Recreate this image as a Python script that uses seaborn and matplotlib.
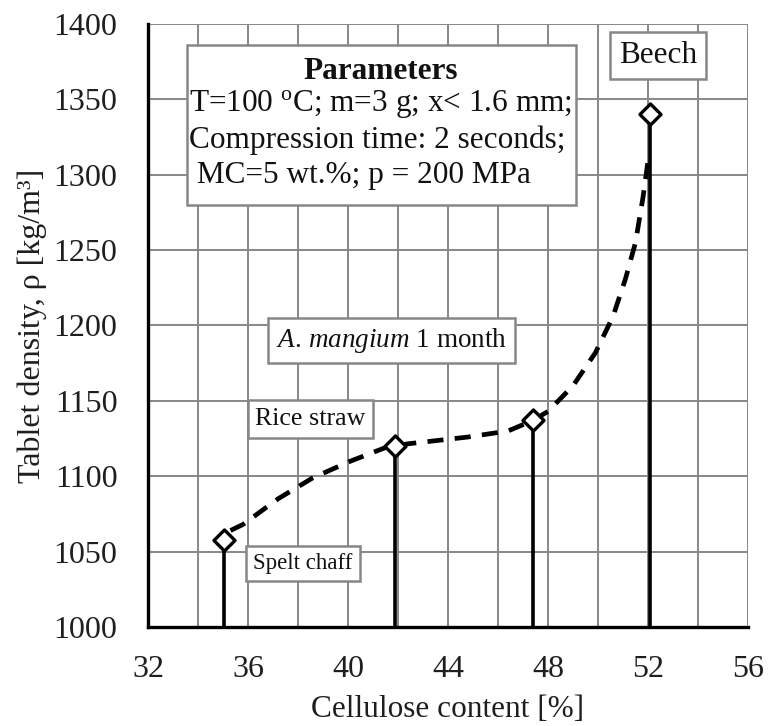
import matplotlib
matplotlib.use("Agg")
import matplotlib.pyplot as plt
import seaborn as sns
import pandas as pd
from matplotlib.patches import Rectangle

# ---- data ----
materials = ["Spelt chaff", "Rice straw", "A. mangium 1 month", "Beech"]
cellulose = [35.05, 41.9, 47.4, 52.1]
density = [1058, 1120, 1137, 1340]

curve_x = [35.3, 35.8, 37.2, 38.6, 40.1, 41.5, 42.4, 43.2, 44.8, 46.4, 47.4,
           48.0, 49.0, 49.9, 50.6, 51.1, 51.5, 51.8, 52.05]
curve_y = [1064, 1068, 1085, 1099, 1110, 1119, 1121.5, 1123, 1126, 1130, 1137,
           1143, 1160, 1182, 1206, 1231, 1255, 1285, 1315]

x_ticks = [32, 36, 40, 44, 48, 52, 56]
y_ticks = [1000, 1050, 1100, 1150, 1200, 1250, 1300, 1350, 1400]

sns.set_theme(style="white")
plt.rcParams["font.family"] = ["Liberation Serif", "DejaVu Serif"]
plt.rcParams["mathtext.fontset"] = "custom"
plt.rcParams["mathtext.rm"] = "Liberation Serif"
plt.rcParams["mathtext.it"] = "Liberation Serif:italic"

df = pd.DataFrame({"material": materials, "x": cellulose, "y": density})
cdf = pd.DataFrame({"x": curve_x, "y": curve_y})

fig = plt.figure(figsize=(7.68, 7.26), dpi=100)
ax = fig.add_axes([0.1927, 0.1364, 0.78125, 0.8306])

ax.set_xlim(32, 56)
ax.set_ylim(1000, 1400)

GRID = "#878787"
for gx in range(32, 57, 2):
    ax.axvline(gx, color=GRID, lw=1.4, zorder=0)
for gy in y_ticks:
    ax.axhline(gy, color=GRID, lw=1.4, zorder=0)

# stems
ax.vlines(df["x"], 1000, df["y"], color="black", lw=2.6, zorder=2)

# dashed trend curve
sns.lineplot(data=cdf, x="x", y="y", ax=ax, color="black", lw=3.4,
             zorder=3, sort=False)
ax.lines[-1].set_dashes((3.4, 2.4))

# markers
sns.scatterplot(data=df, x="x", y="y", ax=ax, marker="D", s=115,
                facecolor="white", edgecolor="black", linewidth=2.4, zorder=4)

for s in ["top", "right"]:
    ax.spines[s].set_visible(False)
for s in ["left", "bottom"]:
    ax.spines[s].set_color("black")
    ax.spines[s].set_linewidth(2.4)
ax.set_xticks(x_ticks)
ax.set_yticks(y_ticks)
ax.tick_params(axis="both", direction="out", length=15, width=2.2,
               color="black", labelsize=23, labelcolor="#1e1e1e")
ax.tick_params(axis="x", pad=5)
ax.tick_params(axis="y", pad=7)
ax.set_xlabel("Cellulose content [%]", fontsize=22.5, color="#1e1e1e")
ax.set_ylabel("Tablet density, \u03c1 [kg/m\u00b3]", fontsize=23, color="#1e1e1e")
ax.xaxis.set_label_coords(0.5, -0.112)
ax.yaxis.set_label_coords(-0.168, 0.5)

# parameters box
ax.add_patch(Rectangle((33.56, 1280), 15.56, 106, facecolor="white",
                       edgecolor=GRID, lw=1.8, zorder=5))
TXT = "#111111"
ax.text(41.3, 1368.5, "Parameters", ha="center", va="center", fontsize=22.5,
        fontweight="bold", color=TXT, zorder=6)
ax.text(33.65, 1347, "T=100 $^{\\rm o}$C; m=3 g; x< 1.6 mm;", ha="left",
        va="center", fontsize=22.5, color=TXT, zorder=6)
ax.text(33.65, 1323, "Compression time: 2 seconds;", ha="left",
        va="center", fontsize=22.5, color=TXT, zorder=6)
ax.text(33.65, 1299.5, " MC=5 wt.%; p = 200 MPa", ha="left",
        va="center", fontsize=22.5, color=TXT, zorder=6)

box = dict(boxstyle="square,pad=0.3", facecolor="white", edgecolor=GRID, lw=1.8)
ax.text(52.4, 1379, "Beech", ha="center", va="center", fontsize=22.5,
        color=TXT, bbox=box, zorder=6)
ax.text(41.75, 1190, "$\\mathit{A.\\,mangium}$ 1 month", ha="center", va="center",
        fontsize=19.5, color=TXT, bbox=box, zorder=6)
ax.text(38.5, 1138, "Rice straw", ha="center", va="center", fontsize=18.7,
        color=TXT, bbox=box, zorder=6)
ax.text(38.2, 1042, "Spelt chaff", ha="center", va="center", fontsize=16.5,
        color=TXT, bbox=box, zorder=6)

fig.savefig("out.png", dpi=100)
